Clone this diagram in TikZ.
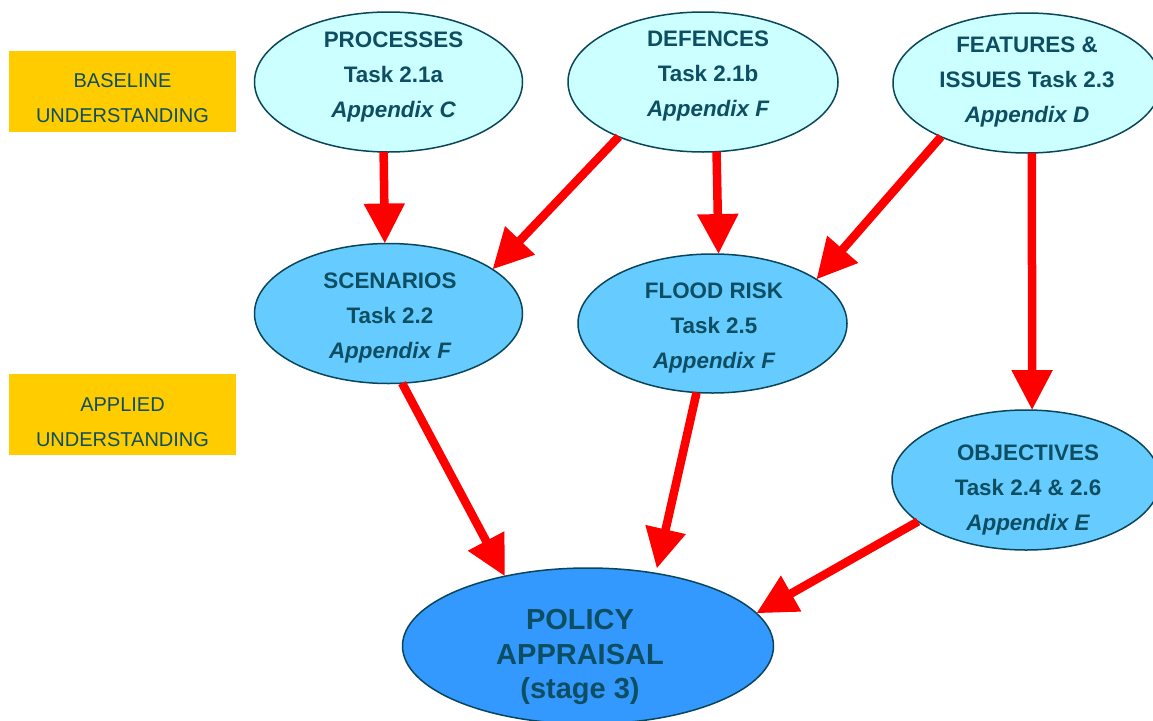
\documentclass[tikz,border=0pt]{standalone}
\usepackage{fontspec}
\setmainfont{Liberation Sans}
\usetikzlibrary{shapes.geometric,arrows.meta}
\definecolor{txtc}{RGB}{13,78,98}
\definecolor{edgec}{RGB}{10,70,90}
\definecolor{lightc}{RGB}{204,255,255}
\definecolor{midc}{RGB}{102,204,255}
\definecolor{polc}{RGB}{51,153,255}
\definecolor{boxc}{RGB}{255,204,0}
\definecolor{arrc}{RGB}{255,0,0}
\tikzset{
  ell/.style={ellipse, draw=edgec, line width=1.5pt, inner sep=0pt, outer sep=0pt,
    minimum width=268pt, minimum height=140pt},
  lab/.style={text=txtc, align=center, inner sep=0pt,
    font=\fontsize{22.4}{35}\selectfont\bfseries},
  biglab/.style={text=txtc, align=center, inner sep=0pt,
    font=\fontsize{29}{34.5}\selectfont\bfseries},
  boxlab/.style={text=txtc, align=center, inner sep=0pt,
    font=\fontsize{20}{35}\selectfont},
  ybox/.style={fill=boxc, draw=none, inner sep=0pt, minimum width=227pt, minimum height=81pt},
  arr/.style={draw=arrc, line width=8.5pt, -{Triangle[length=40pt,width=39pt]}}
}
\begin{document}
\begin{tikzpicture}[x=1pt,y=-1pt]
\useasboundingbox (0,0) rectangle (1153,720);
\fill[white] (0,0) rectangle (1153,720);
\begin{scope}
\clip (0,0) rectangle (1153,720);
% yellow boxes
\node[ybox] (bbox) at (122.5,91) {};
\node[boxlab] (btxt) at (122.5,98) {BASELINE\\UNDERSTANDING};
\node[ybox] (abox) at (122.5,414.5) {};
\node[boxlab] (atxt) at (122.5,422) {APPLIED\\UNDERSTANDING};
% ellipses
\node[ell, fill=lightc] (proc) at (388.5,82) {};
\node[lab] (proct) at (393.5,77) {PROCESSES\\Task 2.1a\\\itshape Appendix C};
\node[ell, fill=lightc, minimum width=270pt] (def) at (703,82) {};
\node[lab] (deft) at (708,76) {DEFENCES\\Task 2.1b\\\itshape Appendix F};
\node[ell, fill=lightc] (feat) at (1027,83) {};
\node[lab] (featt) at (1027,82) {FEATURES \&\\ISSUES Task 2.3\\\itshape Appendix D};
\node[ell, fill=midc] (scen) at (388.5,313.5) {};
\node[lab] (scent) at (390,318) {SCENARIOS\\Task 2.2\\\itshape Appendix F};
\node[ell, fill=midc, minimum width=269pt, minimum height=139pt] (flood) at (712.5,323.5) {};
\node[lab] (floodt) at (714,328) {FLOOD RISK\\Task 2.5\\\itshape Appendix F};
\node[ell, fill=midc] (obj) at (1026,480) {};
\node[lab] (objt) at (1028,490) {OBJECTIVES\\Task 2.4 \& 2.6\\\itshape Appendix E};
\node[ell, fill=polc, minimum width=371pt, minimum height=156pt] (pol) at (588,646) {};
\node[biglab] (polt) at (580,657) {POLICY\\APPRAISAL\\(stage 3)};
% arrows
\draw[arr] (proc.266.7) -- (scen.93.7);
\draw[arr] (def.213.2) -- (scen.23.6);
\draw[arr] (def.281.7) -- (flood.85.9);
\draw[arr] (feat.212.9) -- (flood.23.9);
\draw[arr] (feat.274.1) -- (obj.85.1);
\draw[arr] (scen.281) -- (pol.140.9);
\draw[arr, shorten >=5pt] (flood.257.8) -- (pol.47.3);
\draw[arr] (obj.201) -- (pol.11);
\end{scope}
\end{tikzpicture}
\end{document}
